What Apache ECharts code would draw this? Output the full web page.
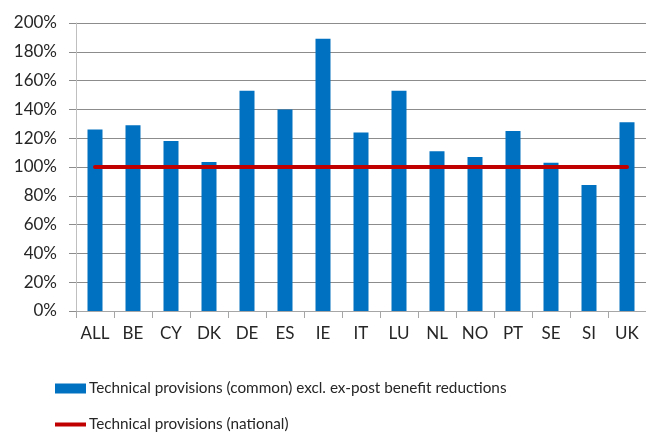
<!DOCTYPE html>
<html>
<head>
<meta charset="utf-8">
<script src="https://cdn.jsdelivr.net/npm/echarts@6/dist/echarts.min.js"></script>
<style>
  html, body { margin: 0; padding: 0; background: #fff; }
  #main { width: 646px; height: 436px; }
</style>
</head>
<body>
<div id="main"></div>
<script>
const countries = ["ALL", "BE", "CY", "DK", "DE", "ES", "IE", "IT", "LU", "NL", "NO", "PT", "SE", "SI", "UK"];
// technical provisions (common) excl. ex-post benefit reductions, % of national
const commonValues = [126, 129, 118, 103.5, 153, 140, 189, 124, 153, 111, 107, 125, 103, 87.5, 131];
// national technical provisions = 100%
const nationalValues = [100, 100, 100, 100, 100, 100, 100, 100, 100, 100, 100, 100, 100, 100, 100];
const yTicks = [0, 20, 40, 60, 80, 100, 120, 140, 160, 180, 200];

const commonName = "Technical provisions (common) excl. ex-post benefit reductions";
const nationalName = "Technical provisions (national)";

const font = "Lato";
const textColor = "#262626";

const chart = echarts.init(document.getElementById("main"));

chart.setOption({
  animation: false,
  textStyle: { fontFamily: font },
  grid: { left: 76, right: -2, top: 23, bottom: 125 },
  legend: [
    {
      left: 50,
      top: 376,
      itemWidth: 31,
      itemHeight: 10,
      itemGap: 0,
      icon: "rect",
      data: [commonName],
      textStyle: { fontFamily: font, fontSize: 15.3, color: textColor, padding: [0, 0, 0, -2] }
    },
    {
      left: 50,
      top: 412,
      itemWidth: 31,
      itemHeight: 4,
      itemGap: 0,
      icon: "rect",
      data: [nationalName],
      textStyle: { fontFamily: font, fontSize: 15.3, color: textColor, padding: [0, 0, 0, -2] }
    }
  ],
  xAxis: {
    type: "category",
    data: countries,
    axisLine: { lineStyle: { color: "#A6A6A6", width: 1 } },
    axisTick: { show: true, length: 7, lineStyle: { color: "#A6A6A6" } },
    axisLabel: { fontFamily: font, fontSize: 17, color: textColor, margin: 14 }
  },
  yAxis: {
    type: "value",
    min: 0,
    max: 200,
    interval: 20,
    axisLine: { show: true, lineStyle: { color: "#BFBFBF", width: 1 } },
    axisTick: { show: true, length: 7, lineStyle: { color: "#8C8C8C" } },
    splitLine: { lineStyle: { color: "#8C8C8C", width: 1 } },
    axisLabel: {
      fontFamily: font,
      fontSize: 17,
      color: textColor,
      margin: 19,
      formatter: function (v) {
        return yTicks.indexOf(v) >= 0 ? v + "%" : "";
      }
    }
  },
  series: [
    {
      name: commonName,
      type: "bar",
      data: commonValues,
      barWidth: 15,
      itemStyle: { color: "#0070C0" }
    },
    {
      name: nationalName,
      type: "line",
      data: nationalValues,
      symbol: "none",
      lineStyle: { color: "#C00000", width: 4, cap: "round" },
      itemStyle: { color: "#C00000" }
    }
  ]
});
</script>
</body>
</html>
